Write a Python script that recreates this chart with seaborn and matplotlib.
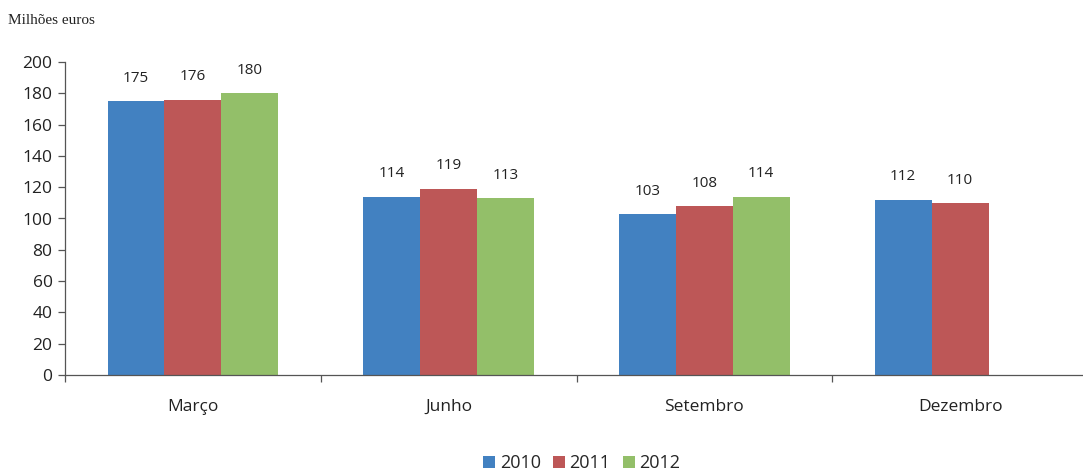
import matplotlib
matplotlib.use("Agg")
import matplotlib.pyplot as plt
from matplotlib.ticker import FixedLocator
import seaborn as sns
import pandas as pd
import numpy as np

# Quarterly values (million euros) per year
categories = ["Março", "Junho", "Setembro", "Dezembro"]
years = ["2010", "2011", "2012"]
values_2010 = [175, 114, 103, 112]
values_2011 = [176, 119, 108, 110]
values_2012 = [180, 113, 114, np.nan]
colors = ["#4281C1", "#BD5757", "#93BF69"]

rows = []
for yr, vals in zip(years, [values_2010, values_2011, values_2012]):
    for cat, v in zip(categories, vals):
        rows.append({"mes": cat, "ano": yr, "valor": v})
df = pd.DataFrame(rows)

sns.set_style("white")
plt.rcParams["font.family"] = ["Open Sans", "DejaVu Sans"]

fig = plt.figure(figsize=(10.83, 4.73), dpi=100)
W, H = 1083, 473
ax = fig.add_axes([65 / W, 98 / H, 1023 / W, 313 / H])

sns.barplot(data=df, x="mes", y="valor", hue="ano", order=categories,
            hue_order=years, palette=colors, width=0.667, saturation=1,
            edgecolor="none", linewidth=0, ax=ax, legend=True)

ax.set_xlim(-0.5, 3.5)
ax.set_ylim(0, 200)
ax.set_yticks(range(0, 201, 20))
ax.set_xlabel("")
ax.set_ylabel("")

for spine in ["top", "right"]:
    ax.spines[spine].set_visible(False)
for spine in ["left", "bottom"]:
    ax.spines[spine].set_color("#555555")
    ax.spines[spine].set_linewidth(0.9)

ax.tick_params(axis="y", direction="out", length=5, width=0.9, color="#555555",
               labelsize=12.5, labelcolor="#222222", pad=4, left=True)
ax.tick_params(axis="x", which="major", length=0, labelsize=12.5,
               labelcolor="#222222", pad=17)
ax.xaxis.set_minor_locator(FixedLocator([-0.5, 0.5, 1.5, 2.5, 3.5]))
ax.tick_params(axis="x", which="minor", direction="out", length=5, width=0.9,
               color="#555555", bottom=True)

# value labels above bars
for container in ax.containers:
    labels = ["" if np.isnan(v) else f"{v:.0f}" for v in container.datavalues]
    ax.bar_label(container, labels=labels, padding=11, fontsize=11, color="#222222")

handles, labels = ax.get_legend_handles_labels()
ax.get_legend().remove()
fig.legend(handles, labels, loc="center", bbox_to_anchor=(582 / W, 1 - 463 / H),
           ncol=3, frameon=False, fontsize=13, handlelength=0.65,
           handleheight=0.65, handletextpad=0.25, columnspacing=0.7)

fig.text(8 / W, 1 - 20 / H, "Milhões euros", fontsize=11,
         family=["Liberation Serif"], color="#222222", va="center", ha="left")

fig.savefig("out.png", dpi=100)
